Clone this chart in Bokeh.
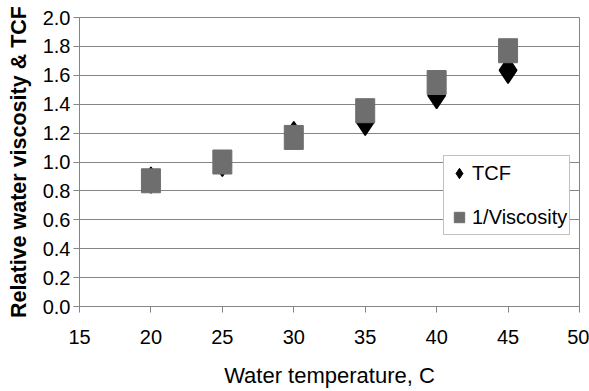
import math
from bokeh.plotting import figure
from bokeh.models import (ColumnDataSource, FixedTicker, Legend, LegendItem,
                          PrintfTickFormatter, Range1d)
from bokeh.embed import file_html
from bokeh.resources import INLINE

# ---- data ----
temperature = [20, 25, 30, 35, 40, 45]
tcf = [0.875, 0.99, 1.19, 1.275, 1.46, 1.635]
inv_viscosity = [0.87, 1.0, 1.17, 1.355, 1.55, 1.77]

x_ticks = [15, 20, 25, 30, 35, 40, 45, 50]
y_ticks = [0.0, 0.2, 0.4, 0.6, 0.8, 1.0, 1.2, 1.4, 1.6, 1.8, 2.0]

x_label = "Water temperature, C"
y_label = "Relative water viscosity & TCF"
series_names = ["TCF", "1/Viscosity"]

GRID = "#858585"
SQUARE = "#6e6e6e"
FONT = "Liberation Sans"

src = ColumnDataSource(dict(t=temperature, tcf=tcf, inv=inv_viscosity))

p = figure(width=589, height=391, output_backend="svg", toolbar_location=None,
           x_range=Range1d(15, 50), y_range=Range1d(0, 2),
           min_border_left=79, min_border_right=10, min_border_top=17,
           min_border_bottom=85)

p.background_fill_color = "white"
p.border_fill_color = "white"
p.outline_line_color = GRID
p.outline_line_width = 1

# axes
p.xaxis.ticker = FixedTicker(ticks=x_ticks)
p.yaxis.ticker = FixedTicker(ticks=y_ticks)
p.yaxis.formatter = PrintfTickFormatter(format="%.1f")
p.xaxis.formatter = PrintfTickFormatter(format="%d")
for ax in (p.xaxis, p.yaxis):
    ax.axis_line_color = GRID
    ax.major_tick_line_color = GRID
    ax.major_tick_out = 6
    ax.major_tick_in = 0
    ax.minor_tick_line_color = None
    ax.major_label_text_font = FONT
    ax.major_label_text_font_size = "20px"
    ax.major_label_text_color = "black"
    ax.axis_label_text_font = FONT
    ax.axis_label_text_color = "black"

p.xaxis.axis_label = x_label
p.xaxis.axis_label_text_font_size = "22px"
p.xaxis.axis_label_text_font_style = "normal"
p.xaxis.major_label_standoff = 17
p.xaxis.axis_label_standoff = 16

p.yaxis.axis_label = y_label
p.yaxis.axis_label_text_font_size = "21.5px"
p.yaxis.axis_label_text_font_style = "bold"
p.yaxis.major_label_standoff = 3
p.yaxis.axis_label_standoff = 9

p.xgrid.grid_line_color = None
p.ygrid.grid_line_color = GRID
p.ygrid.grid_line_width = 1
p.ygrid.ticker = FixedTicker(ticks=y_ticks)

# data marks
r_tcf = p.scatter("t", "tcf", source=src, marker="diamond", size=26,
                  fill_color="black", line_color="black", line_width=1.5)
r_inv = p.rect("t", "inv", source=src, width=19, height=24,
               width_units="screen", height_units="screen",
               fill_color=SQUARE, line_color=SQUARE)

# legend-only proxies (marker sized by the legend box)
nan_src = ColumnDataSource(dict(x=[math.nan], y=[math.nan]))
leg_tcf = p.scatter("x", "y", source=nan_src, marker="diamond",
                    fill_color="black", line_color="black")
leg_inv = p.scatter("x", "y", source=nan_src, marker="square",
                    fill_color=SQUARE, line_color=SQUARE)

legend = Legend(items=[LegendItem(label=series_names[0], renderers=[leg_tcf]),
                       LegendItem(label=series_names[1], renderers=[leg_inv])],
                location=(364, 71), orientation="vertical",
                glyph_width=26, glyph_height=30, label_height=30,
                label_standoff=0, spacing=14, padding=2, margin=0,
                label_text_font=FONT, label_text_font_size="20px",
                label_text_color="black",
                border_line_color=GRID, border_line_width=1,
                background_fill_color="white", background_fill_alpha=1)
p.add_layout(legend, "center")

open("out.html", "w").write(file_html(p, INLINE))
